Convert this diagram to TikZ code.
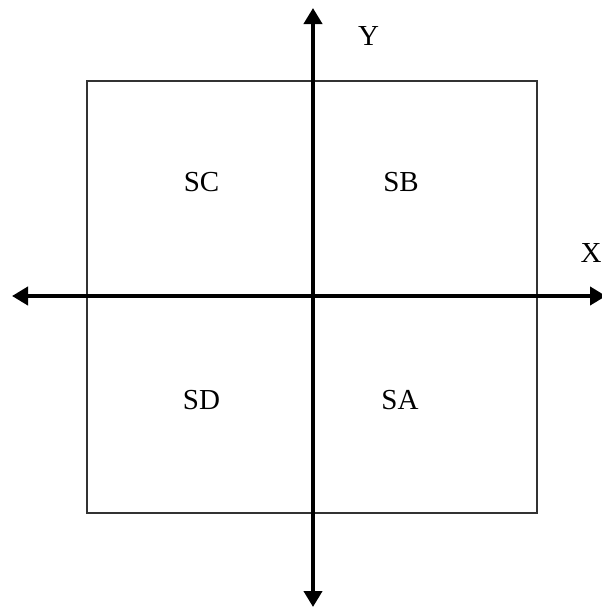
\documentclass[tikz,border=0pt]{standalone}
\usepackage{fontspec}
\setmainfont{Liberation Serif}
\usetikzlibrary{arrows.meta}
\begin{document}
\begin{tikzpicture}[x=1pt,y=-1pt,
  frame/.style={draw=black!80,line width=2pt},
  axis/.style={line width=4pt,{Triangle[width=18pt,length=16pt]}-{Triangle[width=18pt,length=16pt]}},
  quad/.style={font=\fontsize{29}{34}\selectfont},
  axlabel/.style={font=\fontsize{29}{34}\selectfont}]
  \useasboundingbox (0,0) rectangle (602,611);
  % square region
  \draw[frame] (87,81) rectangle (537,513);
  % axis end points
  \coordinate (ytop) at (313,8);
  \coordinate (ybot) at (313,607);
  \coordinate (xleft) at (12,296);
  \coordinate (xright) at (606,296);
  \draw[axis] (ybot) -- (ytop);
  \draw[axis] (xleft) -- (xright);
  % labels
  \node[axlabel] (ylab) at (368.5,36) {Y};
  \node[axlabel] (xlab) at (591,253) {X};
  \node[quad] (sc) at (201.5,182) {SC};
  \node[quad] (sb) at (401,182) {SB};
  \node[quad] (sd) at (201.5,400) {SD};
  \node[quad] (sa) at (400,400) {SA};
\end{tikzpicture}
\end{document}
